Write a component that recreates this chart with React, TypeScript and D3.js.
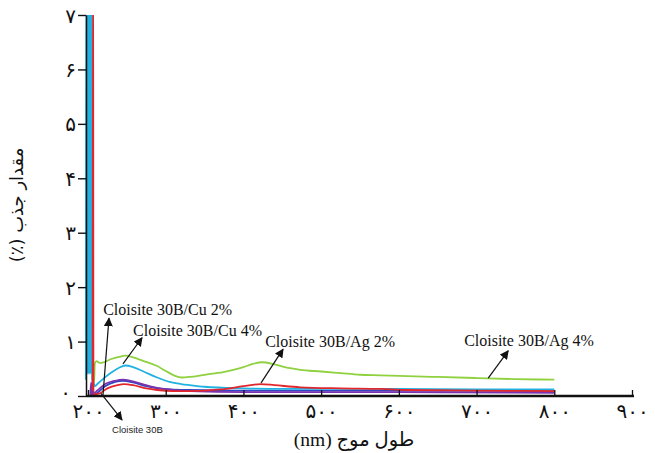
import { useEffect, useRef } from "react"
import * as d3 from "d3"

const W = 655
const H = 453

const xTicks = [200, 300, 400, 500, 600, 700, 800, 900]
const yTicks = [0, 1, 2, 3, 4, 5, 6, 7]

// [wavelength (nm), absorbance]
const ag4: [number, number][] = [
    [207, 0.22], [208, 0.3], [208.8, 0.6], [211, 0.64], [215, 0.61], [220, 0.62],
    [230, 0.68], [240, 0.72], [248, 0.74], [258, 0.71], [270, 0.65], [289, 0.55],
    [300, 0.46], [312, 0.37], [320, 0.34], [331, 0.35], [350, 0.39], [374, 0.44],
    [400, 0.53], [412, 0.59], [424, 0.62], [440, 0.58], [460, 0.51], [473, 0.48],
    [500, 0.45], [525, 0.42], [550, 0.39], [576, 0.38], [600, 0.37], [650, 0.35],
    [700, 0.33], [750, 0.31], [800, 0.3],
]

const cu4: [number, number][] = [
    [197.4, 0.3], [197.9, 9], [198.5, 0.4], [199.1, 9], [199.7, 0.4], [200.3, 9],
    [200.9, 0.4], [201.5, 9], [202.1, 0.4], [202.7, 9], [203.3, 0.4], [203.9, 9],
    [204.4, 0.4], [204.9, 9], [205.3, 0.3], [207, 0.24], [209, 0.18], [212, 0.22],
    [220, 0.32], [230, 0.43], [240, 0.52], [248, 0.56], [258, 0.53], [270, 0.46],
    [289, 0.34], [305, 0.26], [320, 0.22], [331, 0.2], [350, 0.17], [400, 0.14],
    [450, 0.13], [500, 0.13], [550, 0.13], [600, 0.13], [700, 0.12], [800, 0.12],
]

const ag2: [number, number][] = [
    [206, 0.1], [206.5, 9], [207, 0.03], [215, 0.05], [225, 0.14], [238, 0.2],
    [246, 0.22], [258, 0.2], [275, 0.14], [289, 0.11], [310, 0.09], [331, 0.09],
    [370, 0.12], [400, 0.18], [422, 0.22], [440, 0.2], [473, 0.16], [525, 0.14],
    [576, 0.13], [610, 0.11], [700, 0.1], [800, 0.09],
]

const cu2: [number, number][] = [
    [203, 0.02], [204, 0.25], [205.5, 0.03], [212, 0.1], [220, 0.2], [235, 0.28],
    [245, 0.3], [255, 0.28], [270, 0.22], [289, 0.15], [310, 0.11], [331, 0.09],
    [400, 0.07], [500, 0.07], [600, 0.07], [800, 0.06],
]

const base30b: [number, number][] = [
    [204, 0.0], [206, 0.12], [208, 0.02], [214, 0.08], [222, 0.18], [235, 0.26],
    [245, 0.28], [258, 0.25], [275, 0.18], [295, 0.13], [330, 0.11], [400, 0.1],
    [500, 0.1], [600, 0.1], [800, 0.09],
]

const seriesNames = ["Cloisite 30B/Ag 4%", "Cloisite 30B", "Cloisite 30B/Cu 2%", "Cloisite 30B/Cu 4%", "Cloisite 30B/Ag 2%"]
const seriesData = [ag4, base30b, cu2, cu4, ag2]
const seriesColors = ["#8fd13f", "#3146c4", "#7a33b0", "#22b2e2", "#e3262b"]

// label text, label anchor (nm, abs), arrow tail, arrow head
const notes = [
    { text: "Cloisite 30B/Cu 2%", at: [219.5, 1.49], from: [219.3, 0.02], to: [227, 1.43] },
    { text: "Cloisite 30B/Cu 4%", at: [258, 1.1], from: [245, 0.59], to: [269.5, 1.07] },
    { text: "Cloisite 30B/Ag 2%", at: [428, 0.9], from: [422.7, 0.24], to: [451, 0.86] },
    { text: "Cloisite 30B/Ag 4%", at: [684, 0.92], from: [715, 0.33], to: [740.7, 0.83] },
]
const smallNote = { text: "Cloisite 30B", at: [231, -0.68], from: [216.7, 0.05], to: [243.8, -0.44] }

const faDigits = "۰۱۲۳۴۵۶۷۸۹"
const toFa = (n: number) => String(n).replace(/\d/g, c => faDigits[+c])

export default function App() {
    const ref = useRef<SVGSVGElement | null>(null)

    useEffect(() => {
        const svg = d3.select(ref.current)
        svg.selectAll("*").remove()

        const x = d3.scaleLinear().domain([200, 900]).range([88, 632])
        const y = d3.scaleLinear().domain([0, 7]).range([396, 15])

        const defs = svg.append("defs")
        defs.append("clipPath")
            .attr("id", "plot-clip")
            .append("rect")
            .attr("x", x(196))
            .attr("y", y(7))
            .attr("width", x(900) - x(196))
            .attr("height", y(0) - y(7))

        defs.append("marker")
            .attr("id", "head")
            .attr("viewBox", "0 0 10 10")
            .attr("refX", 9)
            .attr("refY", 5)
            .attr("markerWidth", 9)
            .attr("markerHeight", 9)
            .attr("markerUnits", "userSpaceOnUse")
            .attr("orient", "auto")
            .append("path")
            .attr("d", "M0,0L10,5L0,10z")
            .attr("fill", "#111")

        const line = d3.line<[number, number]>()
            .x(d => x(d[0]))
            .y(d => y(d[1]))
            .curve(d3.curveMonotoneX)

        const lines = svg.append("g").attr("clip-path", "url(#plot-clip)")
        seriesData.forEach((pts, i) => {
            lines.append("path")
                .datum(pts)
                .attr("d", line)
                .attr("fill", "none")
                .attr("stroke", seriesColors[i])
                .attr("stroke-width", 1.8)
                .attr("stroke-linejoin", "round")
                .attr("data-name", seriesNames[i])
        })

        // y axis
        const ya = svg.append("g")
            .attr("transform", `translate(${x(200) - 2},0)`)
            .call(d3.axisLeft(y).tickValues(yTicks).tickSizeInner(8).tickSizeOuter(0).tickFormat(d => toFa(+d)))
        ya.select(".domain").attr("stroke", "#111").attr("stroke-width", 1.5)
        ya.selectAll(".tick line").attr("stroke", "#111").attr("stroke-width", 1.4)
        ya.selectAll<SVGTextElement, number>(".tick text")
            .attr("x", d => (d === 0 ? -15 : -10))
            .attr("dy", d => (d === 0 ? "0.1em" : "0.35em"))
            .attr("font-family", "DejaVu Sans")
            .attr("font-size", 20)
            .attr("fill", "#111")

        // x axis
        const xa = svg.append("g")
            .attr("transform", `translate(0,${y(0)})`)
            .call(d3.axisBottom(x).tickValues(xTicks).tickSizeInner(-6).tickSizeOuter(0).tickFormat(d => toFa(+d)))
        xa.select(".domain").remove()
        xa.append("line")
            .attr("x1", x(200) - 2)
            .attr("x2", x(900) + 2)
            .attr("stroke", "#111")
            .attr("stroke-width", 2.6)
        xa.selectAll(".tick line").attr("stroke", "#111").attr("stroke-width", 1.3)
        xa.selectAll(".tick text")
            .attr("y", 22)
            .attr("dy", 0)
            .attr("font-family", "DejaVu Sans")
            .attr("font-size", 20)
            .attr("fill", "#111")

        // titles
        svg.append("text")
            .attr("transform", "translate(23,205) rotate(-90)")
            .attr("text-anchor", "middle")
            .attr("direction", "rtl")
            .attr("font-family", "DejaVu Sans")
            .attr("font-size", 18)
            .attr("fill", "#111")
            .text("مقدار جذب (٪)")

        svg.append("text")
            .attr("x", 354)
            .attr("y", 446)
            .attr("text-anchor", "middle")
            .attr("direction", "rtl")
            .attr("font-family", "Liberation Serif, DejaVu Sans")
            .attr("font-size", 19.5)
            .attr("fill", "#111")
            .text("طول موج (nm)")

        // annotations
        const ann = svg.append("g")
        notes.forEach(n => {
            ann.append("line")
                .attr("x1", x(n.from[0]))
                .attr("y1", y(n.from[1]))
                .attr("x2", x(n.to[0]))
                .attr("y2", y(n.to[1]))
                .attr("stroke", "#111")
                .attr("stroke-width", 1.2)
                .attr("marker-end", "url(#head)")
            ann.append("text")
                .attr("x", x(n.at[0]))
                .attr("y", y(n.at[1]))
                .attr("font-family", "Liberation Serif")
                .attr("font-size", 16)
                .attr("fill", "#111")
                .text(n.text)
        })
        ann.append("line")
            .attr("x1", x(smallNote.from[0]))
            .attr("y1", y(smallNote.from[1]))
            .attr("x2", x(smallNote.to[0]))
            .attr("y2", y(smallNote.to[1]))
            .attr("stroke", "#111")
            .attr("stroke-width", 1.2)
            .attr("marker-end", "url(#head)")
        ann.append("text")
            .attr("x", x(smallNote.at[0]))
            .attr("y", y(smallNote.at[1]))
            .attr("font-family", "Liberation Sans")
            .attr("font-size", 9.5)
            .attr("fill", "#222")
            .text(smallNote.text)
    }, [])

    return (
        <svg
            ref={ref}
            width={W}
            height={H}
            style={{ position: "absolute", left: 0, top: 0, background: "#fff" }}
        />
    )
}
